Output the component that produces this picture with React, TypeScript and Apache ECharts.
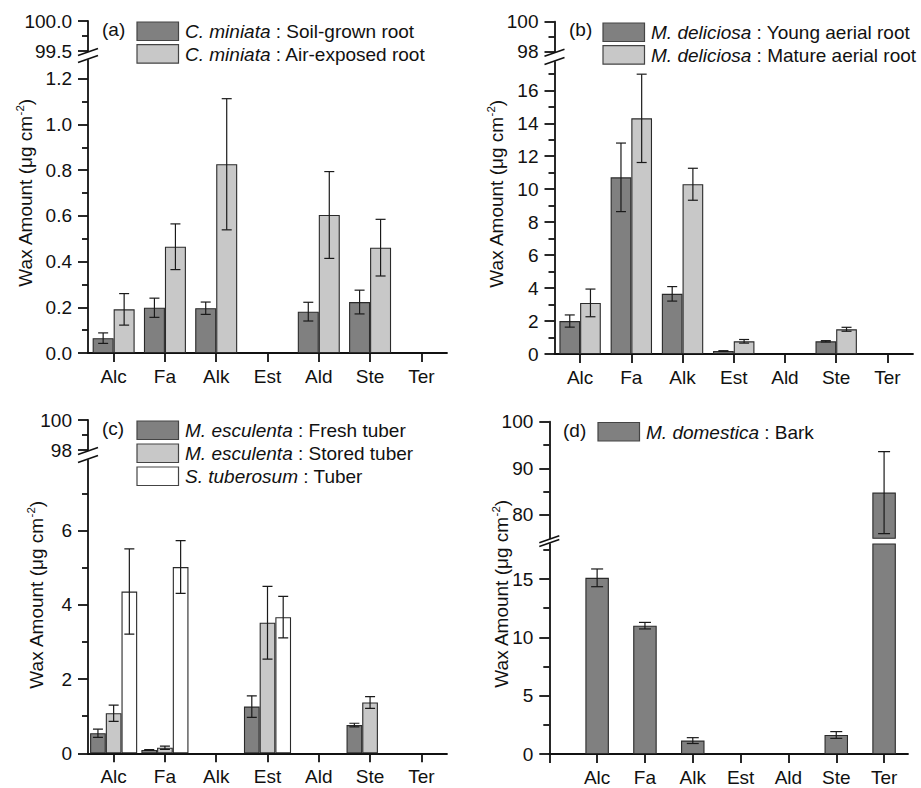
import React, { useEffect, useRef } from 'react';
import * as echarts from 'echarts';

// ---------------- data ----------------
const categories = ['Alc', 'Fa', 'Alk', 'Est', 'Ald', 'Ste', 'Ter'];

// Panel (a) C. miniata
const aSoil = [0.065, 0.198, 0.196, null, 0.181, 0.223, null];
const aSoilErr = [0.023, 0.042, 0.027, null, 0.041, 0.052, null];
const aAir = [0.191, 0.465, 0.826, null, 0.604, 0.461, null];
const aAirErr = [0.069, 0.1, 0.287, null, 0.19, 0.124, null];

// Panel (b) M. deliciosa
const bYoung = [2.0, 10.72, 3.65, 0.18, null, 0.77, null];
const bYoungErr = [0.37, 2.08, 0.44, 0.02, null, 0.04, null];
const bMature = [3.1, 14.3, 10.3, 0.77, null, 1.5, null];
const bMatureErr = [0.84, 2.68, 0.97, 0.11, null, 0.12, null];

// Panel (c) M. esculenta / S. tuberosum
const cFresh = [0.54, 0.09, null, 1.26, null, 0.76, null];
const cFreshErr = [0.11, 0.01, null, 0.29, null, 0.05, null];
const cStored = [1.08, 0.15, null, 3.52, null, 1.37, null];
const cStoredErr = [0.22, 0.045, null, 0.98, null, 0.16, null];
const cPotato = [4.36, 5.02, null, 3.67, null, null, null];
const cPotatoErr = [1.15, 0.71, null, 0.56, null, null, null];

// Panel (d) M. domestica
const dBark = [15.1, 11.0, 1.15, null, null, 1.63, 84.8];
const dBarkErr = [0.76, 0.28, 0.25, null, null, 0.29, 8.8];

// tick values
const aLowerMajor = [0, 0.2, 0.4, 0.6, 0.8, 1.0, 1.2];
const aLowerMinor = [0.1, 0.3, 0.5, 0.7, 0.9, 1.1];
const aUpperMajor = [99.5, 100];
const aUpperMinor = [99.75];
const bLowerMajor = [0, 2, 4, 6, 8, 10, 12, 14, 16];
const bLowerMinor = [1, 3, 5, 7, 9, 11, 13, 15, 17];
const bUpperMajor = [98, 100];
const bUpperMinor = [99];
const cLowerMajor = [0, 2, 4, 6];
const cLowerMinor = [1, 3, 5, 7];
const cUpperMajor = [98, 100];
const cUpperMinor = [99];
const dLowerMajor = [0, 5, 10, 15];
const dLowerMinor = [2.5, 7.5, 12.5, 17.5];
const dUpperMajor = [80, 90, 100];
const dUpperMinor = [85, 95];

const catPositions = [1, 2, 3, 4, 5, 6, 7];
const dTickPositions = [0, 1, 2, 3, 4, 5, 6, 7];

// ---------------- styles ----------------
const FONT = '"Liberation Sans", Arial, sans-serif';
const FS = 19;
const INK = '#111111';
const DARK = '#808080';
const LIGHT = '#c8c8c8';
const WHITE = '#ffffff';
const BORDER = '#2a2a2a';

interface Seg { top: number; height: number; min: number; max: number; major: number[]; minor: number[] }
interface SDef { species: string; label: string; values: (number | null)[]; errs: (number | null)[]; color: string }
interface PDef {
  tag: string; left: number; width: number; xMin: number; xMax: number; xTicks: number[];
  upper: Seg; lower: Seg; decimals: number; barWidth: number; capW: number; series: SDef[];
  tagX: number; tagY: number; legX: number; legY: number; legPitch: number; legTextX: number;
  titleX: number; titleY: number;
}

const panels: PDef[] = [
  {
    tag: '(a)', left: 88, width: 359, xMin: 0.5, xMax: 7.5, xTicks: catPositions,
    upper: { top: 21, height: 30, min: 99.5, max: 100, major: aUpperMajor, minor: aUpperMinor },
    lower: { top: 60, height: 293, min: 0, max: 293 / 228.5, major: aLowerMajor, minor: aLowerMinor },
    decimals: 1, barWidth: 21, capW: 10,
    series: [
      { species: 'C. miniata', label: ' : Soil-grown root', values: aSoil, errs: aSoilErr, color: DARK },
      { species: 'C. miniata', label: ' : Air-exposed root', values: aAir, errs: aAirErr, color: LIGHT },
    ],
    tagX: 102, tagY: 29, legX: 137, legY: 22, legPitch: 22.7, legTextX: 185, titleX: 25, titleY: 193,
  },
  {
    tag: '(b)', left: 554.5, width: 358.5, xMin: 0.5, xMax: 7.5, xTicks: catPositions,
    upper: { top: 21.7, height: 30, min: 98, max: 100, major: bUpperMajor, minor: bUpperMinor },
    lower: { top: 62, height: 292, min: 0, max: 292 / 16.48, major: bLowerMajor, minor: bLowerMinor },
    decimals: 0, barWidth: 20.7, capW: 10,
    series: [
      { species: 'M. deliciosa', label: ' : Young aerial root', values: bYoung, errs: bYoungErr, color: DARK },
      { species: 'M. deliciosa', label: ' : Mature aerial root', values: bMature, errs: bMatureErr, color: LIGHT },
    ],
    tagX: 569, tagY: 29, legX: 603, legY: 23, legPitch: 22.7, legTextX: 651, titleX: 496, titleY: 194,
  },
  {
    tag: '(c)', left: 88, width: 359, xMin: 0.5, xMax: 7.5, xTicks: catPositions,
    upper: { top: 420, height: 30, min: 98, max: 100, major: cUpperMajor, minor: cUpperMinor },
    lower: { top: 460, height: 293.3, min: 0, max: 293.3 / 37.1, major: cLowerMajor, minor: cLowerMinor },
    decimals: 0, barWidth: 15.7, capW: 10,
    series: [
      { species: 'M. esculenta', label: ' : Fresh tuber', values: cFresh, errs: cFreshErr, color: DARK },
      { species: 'M. esculenta', label: ' : Stored tuber', values: cStored, errs: cStoredErr, color: LIGHT },
      { species: 'S. tuberosum', label: ' : Tuber', values: cPotato, errs: cPotatoErr, color: WHITE },
    ],
    tagX: 102, tagY: 428, legX: 137, legY: 421, legPitch: 23, legTextX: 185, titleX: 36, titleY: 595,
  },
  {
    tag: '(d)', left: 549.3, width: 358.7, xMin: 0, xMax: 7.5, xTicks: dTickPositions,
    upper: { top: 421.7, height: 116.6, min: 75, max: 100, major: dUpperMajor, minor: dUpperMinor },
    lower: { top: 544, height: 210, min: 0, max: 18, major: dLowerMajor, minor: dLowerMinor },
    decimals: 0, barWidth: 23.5, capW: 12,
    series: [
      { species: 'M. domestica', label: ' : Bark', values: dBark, errs: dBarkErr, color: DARK },
    ],
    tagX: 563, tagY: 430, legX: 598, legY: 422.5, legPitch: 23, legTextX: 646, titleX: 501, titleY: 594,
  },
];

function buildOption() {
  const grid: any[] = [];
  const xAxis: any[] = [];
  const yAxis: any[] = [];
  const series: any[] = [];
  const graphic: any[] = [];
  const lineStyle = { color: INK, width: 1.8 };
  const labelStyle = { fontFamily: FONT, fontSize: FS, color: INK };

  panels.forEach((p) => {
    [p.upper, p.lower].forEach((seg, si) => {
      const isLower = si === 1;
      const g = grid.length;
      grid.push({ left: p.left, top: seg.top, width: p.width, height: seg.height, containLabel: false });
      xAxis.push({
        type: 'value', gridIndex: g, min: p.xMin, max: p.xMax, show: isLower,
        axisLine: { show: true, onZero: false, lineStyle },
        axisTick: { show: true, inside: false, length: 9, customValues: p.xTicks, lineStyle },
        axisLabel: {
          ...labelStyle, margin: 14, customValues: catPositions,
          formatter: (v: number) => categories[Math.round(v) - 1] ?? '',
        },
        splitLine: { show: false },
      });
      const yMain = yAxis.length;
      yAxis.push({
        type: 'value', gridIndex: g, min: seg.min, max: seg.max, position: 'left',
        axisLine: { show: true, onZero: false, lineStyle },
        axisTick: { show: true, inside: false, length: 10, customValues: seg.major, lineStyle },
        axisLabel: {
          ...labelStyle, margin: 16, customValues: seg.major,
          formatter: (v: number) => v.toFixed(p.decimals),
        },
        splitLine: { show: false },
      });
      yAxis.push({
        type: 'value', gridIndex: g, min: seg.min, max: seg.max, position: 'left',
        axisLine: { show: false, onZero: false },
        axisTick: { show: true, inside: false, length: 6, customValues: seg.minor, lineStyle },
        axisLabel: { show: false },
        splitLine: { show: false },
      });

      const n = p.series.length;
      p.series.forEach((s, k) => {
        const pts: number[][] = [];
        s.values.forEach((v, i) => {
          if (v != null) pts.push([i + 1, v, s.errs[i] ?? 0]);
        });
        if (!pts.some((pt) => pt[1] > seg.min)) return;
        series.push({
          type: 'bar', xAxisIndex: g, yAxisIndex: yMain, silent: true, clip: true,
          barWidth: p.barWidth, barGap: '0%',
          data: pts.map((pt) => [pt[0], pt[1]]),
          itemStyle: { color: s.color, borderColor: BORDER, borderWidth: 1.1 },
          z: 2,
        });
        const errPts = pts.filter((pt) => pt[1] >= seg.min && pt[1] <= seg.max && pt[2] > 0);
        if (!errPts.length) return;
        const offset = (k - (n - 1) / 2) * p.barWidth;
        const capW = p.capW;
        series.push({
          type: 'custom', xAxisIndex: g, yAxisIndex: yMain, silent: true, clip: true, z: 5,
          data: errPts,
          encode: { x: 0, y: 1 },
          renderItem: (_params: any, api: any) => {
            const x = api.value(0);
            const y = api.value(1);
            const e = api.value(2);
            const top = api.coord([x, y + e]);
            const bot = api.coord([x, y - e]);
            const cx = top[0] + offset;
            const st = { stroke: '#1a1a1a', lineWidth: 1.2 };
            return {
              type: 'group',
              children: [
                { type: 'line', shape: { x1: cx, y1: top[1], x2: cx, y2: bot[1] }, style: st },
                { type: 'line', shape: { x1: cx - capW / 2, y1: top[1], x2: cx + capW / 2, y2: top[1] }, style: st },
                { type: 'line', shape: { x1: cx - capW / 2, y1: bot[1], x2: cx + capW / 2, y2: bot[1] }, style: st },
              ],
            };
          },
        });
      });
    });

    // axis break marks
    const ax = p.left;
    const yu = p.upper.top + p.upper.height;
    const yl = p.lower.top;
    [yu + 1, yl - 1].forEach((yy) => {
      graphic.push({
        type: 'line', silent: true, z: 100,
        shape: { x1: ax - 10, y1: yy + 3.5, x2: ax + 10, y2: yy - 3.5 },
        style: { stroke: INK, lineWidth: 1.6 },
      });
    });

    // panel tag
    graphic.push({
      type: 'text', x: p.tagX, y: p.tagY, silent: true,
      style: { text: p.tag, fontFamily: FONT, fontSize: FS, fill: INK, align: 'left', verticalAlign: 'middle', textAlign: 'left', textVerticalAlign: 'middle' },
    });

    // legend
    p.series.forEach((s, k) => {
      const ry = p.legY + k * p.legPitch;
      graphic.push({
        type: 'rect', silent: true,
        shape: { x: p.legX, y: ry, width: 41.5, height: 18.5 },
        style: { fill: s.color, stroke: '#444444', lineWidth: 1.2 },
      });
      graphic.push({
        type: 'text', x: p.legTextX, y: ry + 9.5, silent: true,
        style: {
          text: '{i|' + s.species + '}{n|' + s.label + '}',
          rich: {
            i: { fontFamily: FONT, fontSize: FS, fontStyle: 'italic', fill: INK },
            n: { fontFamily: FONT, fontSize: FS, fill: INK },
          },
          align: 'left', verticalAlign: 'middle', textAlign: 'left', textVerticalAlign: 'middle',
        },
      });
    });

    // y-axis title
    graphic.push({
      type: 'text', x: p.titleX, y: p.titleY, rotation: Math.PI / 2, silent: true,
      style: {
        text: '{n|Wax Amount (μg cm}{s|-2}{n|)}',
        rich: {
          n: { fontFamily: FONT, fontSize: FS, fill: INK, lineHeight: 22 },
          s: { fontFamily: FONT, fontSize: 11.5, fill: INK, verticalAlign: 'top', lineHeight: 14 },
        },
        align: 'center', verticalAlign: 'middle', textAlign: 'center', textVerticalAlign: 'middle',
      },
    });
  });

  return {
    animation: false,
    backgroundColor: '#ffffff',
    grid, xAxis, yAxis, series, graphic,
  };
}

export default function App() {
  const ref = useRef<HTMLDivElement>(null);
  useEffect(() => {
    if (!ref.current) return;
    const chart = echarts.init(ref.current, undefined, { renderer: 'svg' });
    chart.setOption(buildOption() as any);
    return () => chart.dispose();
  }, []);
  return (
    <div
      ref={ref}
      style={{ position: 'fixed', left: 0, top: 0, width: 921, height: 788, background: '#fff' }}
    />
  );
}
